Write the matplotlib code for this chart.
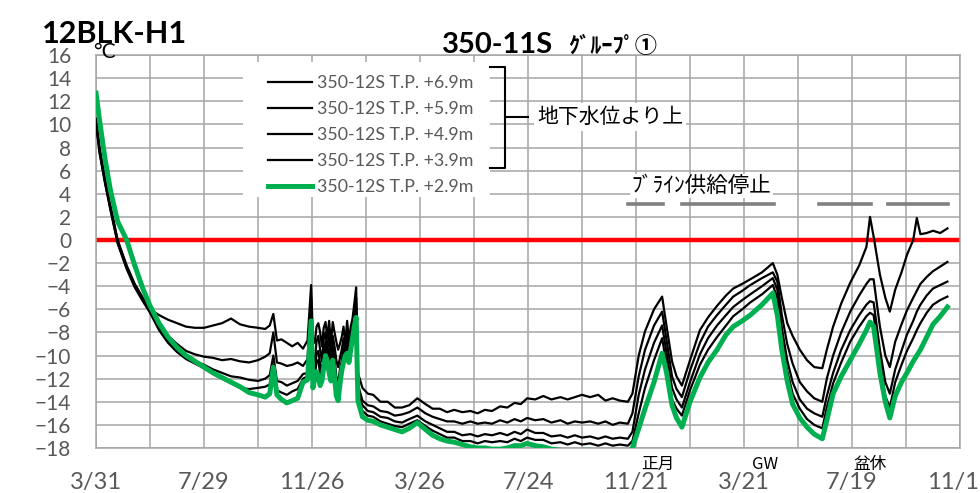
import numpy as np
import matplotlib.pyplot as plt
from matplotlib.patches import Rectangle

plt.rcParams['font.family'] = ['Lato', 'Noto Sans CJK JP', 'DejaVu Sans']

# days since 3/31 (first day of record)
days = [0, 4, 10, 16, 24, 34, 43, 52, 60, 70, 80, 90, 100, 110, 120, 130, 140, 150, 160, 170, 180, 188,
        193, 197, 201, 206, 212, 218, 224, 230, 235,
        239, 241, 243, 245, 247, 249, 251, 253, 255, 257, 259, 261, 263, 265, 267, 269, 271, 273, 275, 277,
        279, 281, 283, 285, 287, 289, 291,
        296, 302, 308, 316, 324, 332, 340, 348, 357, 366, 374, 382, 390, 398, 407, 416, 424, 432, 440, 449,
        457, 465, 472, 479, 488, 497, 506, 516, 524, 532, 540, 549, 558, 566, 574, 582, 591,
        596, 603, 610, 620, 629, 634, 640, 645, 651, 660, 671, 680, 690, 700, 708, 718, 727, 740, 752, 757,
        762, 768, 774, 782, 790, 798, 807, 812, 819, 828, 838, 848, 856, 860, 864, 871, 877, 882, 888, 895,
        901, 908, 912, 916, 923, 930, 938, 946]

tp69 = [10.5, 8.0, 5.3, 3.0, 0.0, -2.2, -3.8, -5.0, -6.0, -6.5, -6.9, -7.2, -7.5, -7.6, -7.6, -7.4, -7.2, -6.8, -7.3, -7.5, -7.6, -7.7,
        -7.4, -6.4, -8.7, -8.6, -8.9, -9.2, -8.9, -9.4, -8.7,
        -3.9, -8.5, -8.9, -7.5, -7.2, -8.0, -9.2, -7.6, -7.1, -8.5, -7.0, -9.0, -7.1, -8.0, -8.8, -9.5, -9.0, -8.4, -7.5, -9.0,
        -7.0, -8.8, -7.5, -6.8, -5.5, -4.1, -11.5,
        -12.8, -13.3, -13.4, -14.0, -14.0, -14.5, -14.5, -14.3, -13.7, -14.2, -14.6, -14.6, -14.9, -14.7, -14.9, -14.8, -15.0, -14.7, -14.8, -14.4,
        -14.5, -14.1, -14.2, -13.7, -13.8, -13.5, -13.8, -13.6, -13.8, -13.6, -13.4, -13.6, -13.4, -13.9, -13.7, -13.9, -14.0,
        -13.3, -10.0, -7.9, -6.0, -4.9, -7.5, -10.5, -11.8, -12.6, -10.4, -7.8, -6.7, -5.7, -4.8, -4.2, -3.8, -3.4, -2.8, -2.0, -3.0,
        -5.0, -7.2, -8.3, -9.5, -10.4, -11.0, -11.1, -9.5, -7.5, -5.5, -3.7, -2.2, -0.6, 2.0, 0.3, -3.0, -5.0, -6.2, -4.3, -2.8,
        -1.3, 0.0, 1.9, 0.5, 0.6, 0.8, 0.6, 1.0]

tp59 = [10.3, 7.8, 5.1, 2.8, -0.1, -2.3, -3.9, -5.1, -6.1, -7.3, -8.3, -9.0, -9.6, -9.9, -10.1, -10.2, -10.4, -10.3, -10.5, -10.6, -10.4, -10.1,
        -9.8, -8.0, -10.6, -10.7, -10.9, -10.8, -10.6, -10.9, -10.3,
        -5.0, -10.2, -10.5, -8.8, -8.3, -9.5, -10.5, -8.6, -8.0, -9.6, -8.2, -10.2, -8.3, -9.2, -10.4, -11.0, -10.2, -9.5, -8.5, -10.0,
        -8.0, -9.6, -8.3, -7.5, -6.2, -5.0, -12.5,
        -13.9, -14.3, -14.4, -14.8, -14.9, -15.2, -15.1, -14.9, -14.5, -15.0, -15.3, -15.5, -15.7, -15.7, -15.9, -15.7, -15.9, -15.8, -15.9, -15.6,
        -15.8, -15.5, -15.7, -15.4, -15.6, -15.5, -15.8, -15.6, -15.9, -15.7, -15.8, -15.7, -15.9, -15.7, -16.0, -15.8, -15.9,
        -15.0, -11.8, -9.5, -7.4, -6.2, -8.7, -11.8, -12.9, -13.6, -11.3, -8.9, -7.5, -6.5, -5.6, -4.9, -4.4, -3.9, -3.3, -2.8, -3.6,
        -6.5, -9.0, -10.7, -12.3, -13.1, -13.7, -14.0, -12.0, -10.0, -8.0, -6.2, -4.8, -3.8, -3.4, -3.4, -7.5, -10.0, -11.0, -8.8, -7.3,
        -6.1, -5.0, -4.4, -3.8, -3.2, -2.7, -2.3, -1.9]

tp49 = [10.2, 7.6, 5.0, 2.7, -0.2, -2.4, -4.0, -5.2, -6.2, -7.6, -8.7, -9.5, -10.1, -10.5, -10.8, -11.2, -11.5, -11.8, -11.9, -12.1, -12.2, -12.0,
        -11.7, -10.0, -12.2, -12.3, -12.6, -12.4, -12.2, -11.6, -11.5,
        -6.0, -11.6, -11.5, -9.8, -9.6, -10.8, -11.4, -9.6, -8.8, -10.3, -9.4, -11.2, -9.2, -10.2, -11.8, -12.4, -11.2, -10.5, -9.4, -10.3,
        -8.8, -10.0, -8.8, -8.0, -6.8, -5.8, -13.2,
        -14.3, -14.8, -14.9, -15.3, -15.4, -15.7, -15.8, -15.5, -15.2, -15.7, -16.0, -16.3, -16.6, -16.6, -16.9, -16.8, -17.0, -16.8, -16.9, -16.7,
        -16.9, -16.6, -16.8, -16.4, -16.7, -16.7, -17.0, -16.9, -17.1, -16.9, -17.1, -17.0, -17.2, -17.0, -17.2, -17.1, -17.2,
        -16.6, -13.4, -11.2, -8.9, -7.4, -9.8, -12.8, -13.8, -14.5, -12.3, -9.9, -8.5, -7.4, -6.5, -5.8, -5.2, -4.7, -4.0, -3.3, -4.3,
        -7.6, -10.4, -12.3, -13.8, -14.6, -15.0, -15.3, -13.5, -11.5, -9.5, -7.8, -6.5, -5.6, -5.3, -5.4, -9.5, -12.3, -13.3, -11.2, -9.6,
        -8.2, -7.0, -6.2, -5.6, -4.8, -4.2, -3.9, -3.6]

tp39 = [10.0, 7.5, 4.9, 2.6, -0.3, -2.5, -4.1, -5.3, -6.3, -7.8, -8.9, -9.7, -10.3, -10.7, -11.1, -11.6, -12.0, -12.4, -12.8, -12.9, -12.8, -12.7,
        -12.5, -10.8, -13.0, -13.2, -13.4, -13.1, -12.9, -12.0, -11.8,
        -6.5, -12.2, -12.0, -10.5, -10.4, -11.6, -11.8, -10.2, -9.4, -10.4, -10.4, -11.7, -9.8, -10.9, -12.6, -13.1, -11.8, -10.9, -9.9, -10.2,
        -9.3, -10.3, -9.1, -8.3, -7.2, -6.3, -13.6,
        -14.8, -15.2, -15.3, -15.7, -15.9, -16.1, -16.2, -15.9, -15.6, -16.1, -16.5, -16.8, -17.1, -17.1, -17.4, -17.4, -17.6, -17.4, -17.5, -17.4,
        -17.5, -17.2, -17.4, -17.1, -17.3, -17.3, -17.6, -17.5, -17.7, -17.5, -17.7, -17.6, -17.8, -17.6, -17.8, -17.7, -17.8,
        -17.4, -15.0, -12.8, -10.4, -8.5, -10.8, -13.8, -14.6, -15.2, -13.0, -10.8, -9.5, -8.4, -7.4, -6.6, -6.0, -5.4, -4.7, -3.9, -5.0,
        -8.5, -11.3, -13.3, -14.6, -15.5, -16.0, -16.3, -14.5, -12.4, -10.6, -8.8, -7.5, -6.6, -6.3, -6.5, -10.5, -13.5, -14.5, -12.3, -10.8,
        -9.6, -8.5, -7.8, -7.2, -6.3, -5.6, -5.2, -4.9]

tp29 = [12.7, 10.3, 7.0, 4.3, 1.6, 0.0, -2.2, -4.2, -5.7, -7.2, -8.4, -9.3, -10.0, -10.5, -11.0, -11.5, -11.9, -12.3, -12.7, -13.2, -13.4, -13.6,
        -13.3, -11.0, -13.4, -13.8, -14.1, -13.9, -13.7, -12.3, -12.1,
        -7.0, -12.8, -12.0, -11.4, -11.8, -12.6, -12.2, -11.0, -10.0, -10.5, -11.5, -12.2, -10.4, -11.8, -13.5, -13.9, -12.5, -11.3, -10.6, -10.0,
        -9.8, -10.6, -9.5, -8.5, -7.5, -6.7, -13.9,
        -15.3, -15.6, -15.7, -16.0, -16.2, -16.4, -16.6, -16.3, -15.8, -16.4, -16.9, -17.2, -17.4, -17.5, -17.7, -17.9, -18.0, -18.0, -18.1, -18.1,
        -18.0, -17.8, -17.8, -17.6, -17.8, -17.9, -18.1, -18.2, -18.3, -18.3, -18.2, -18.2, -18.3, -18.3, -18.4, -18.3, -18.4,
        -18.0, -16.3, -14.6, -12.3, -9.8, -11.5, -14.3, -15.4, -16.2, -14.0, -11.9, -10.6, -9.5, -8.2, -7.5, -7.0, -6.5, -5.6, -4.6, -6.5,
        -9.5, -12.2, -14.2, -15.4, -16.2, -16.8, -17.2, -15.6, -13.3, -11.8, -10.4, -9.0, -7.8, -7.1, -7.5, -11.5, -14.0, -15.4, -13.5, -12.3,
        -11.5, -10.5, -10.0, -9.5, -8.4, -7.3, -6.6, -5.8]

labels = ["350-12S T.P. +6.9m", "350-12S T.P. +5.9m", "350-12S T.P. +4.9m",
          "350-12S T.P. +3.9m", "350-12S T.P. +2.9m"]
xtick_labels = ["3/31", "7/29", "11/26", "3/26", "7/24", "11/21", "3/21", "7/19", "11/16"]

# brine supply stop periods (days)
stop_start = [591, 651, 803, 880]
stop_end = [630, 753, 861, 947]
stop_level = 3.1

events = ["正月", "GW", "盆休"]
event_days = [624, 743, 860]

grid_c = "#A6A6A6"
text_c = "#595959"

fig = plt.figure(figsize=(9.8, 4.93), dpi=100)
ax = fig.add_axes([0.098, 0.0913, 0.8816, 0.797])

ax.set_xlim(0, 960)
ax.set_ylim(-18, 16)
ax.set_xticks(np.arange(0, 961, 120))
ax.set_xticklabels(xtick_labels)
ax.set_xticks(np.arange(0, 961, 60), minor=True)
ax.set_yticks(np.arange(-18, 17, 2))
ax.grid(which="both", color=grid_c, lw=1.1, zorder=0)
ax.set_axisbelow(True)
ax.tick_params(which="both", length=0)
ax.tick_params(axis="x", labelsize=17, colors=text_c, pad=17)
ax.tick_params(axis="y", labelsize=15, colors=text_c, pad=18)
for s in ax.spines.values():
    s.set_color(grid_c)
    s.set_linewidth(1.1)

ax.axhline(0, color="#FF0000", lw=3.2, zorder=2)

for d0, d1 in zip(stop_start, stop_end):
    ax.plot([d0, d1], [stop_level, stop_level], color="#808080", lw=2.6, zorder=2)

for series in [tp69, tp59, tp49, tp39]:
    ax.plot(days, series, color="black", lw=1.6, zorder=3)
ax.plot(days, tp29, color="#00B050", lw=3.6, zorder=4)

# white panel behind the legend
ax.add_patch(Rectangle((0.170, 0.639), 0.286, 0.343, transform=ax.transAxes,
                       facecolor="white", edgecolor="none", zorder=4.5))
lines = ax.get_lines()[-5:]
leg = ax.legend(lines, labels, loc="upper left", bbox_to_anchor=(0.199, 0.949),
                fontsize=12.8, labelcolor=text_c, frameon=False,
                handlelength=2.45, handletextpad=0.33, labelspacing=0.56,
                borderpad=0, borderaxespad=0)
leg.set_zorder(5)

# bracket for the upper four sensors
bx = [0.456, 0.4734, 0.4734, 0.456]
by = [0.9695, 0.9695, 0.7125, 0.7125]
ax.plot(bx, by, color="black", lw=1.5, transform=ax.transAxes, zorder=6, clip_on=False)
ax.plot([0.4734, 0.5], [0.842, 0.842], color="black", lw=1.5, transform=ax.transAxes, zorder=6)
ax.text(0.5104, 0.842, "地下水位より上", transform=ax.transAxes, fontsize=15,
        family=["Noto Sans CJK JP"], ha="left", va="center", zorder=6,
        bbox=dict(facecolor="white", edgecolor="none", pad=2))

ax.text(0.620, 0.6667, "ﾌﾞﾗｲﾝ供給停止", transform=ax.transAxes, fontsize=15.5,
        family=["Noto Sans CJK JP"], ha="left", va="center", zorder=6,
        bbox=dict(facecolor="white", edgecolor="none", pad=1))

for lab, d in zip(events, event_days):
    ax.text(d, -0.041, lab, transform=ax.get_xaxis_transform(), fontsize=12,
            family=["Noto Sans CJK JP"], ha="center", va="center", clip_on=False)

fig.text(0.043, 0.931, "12BLK-H1", fontsize=22, fontweight="bold", ha="left", va="center")
fig.text(0.095, 0.8945, "°C", fontsize=15, ha="left", va="center")
fig.text(0.451, 0.8925, "350-11S", fontsize=21, fontweight="bold", ha="left", va="baseline")
fig.text(0.580, 0.8925, "ｸﾞﾙｰﾌﾟ①", fontsize=16, fontweight="bold",
         family=["Noto Sans CJK JP"], ha="left", va="baseline")

fig.savefig("out.png", dpi=100)
